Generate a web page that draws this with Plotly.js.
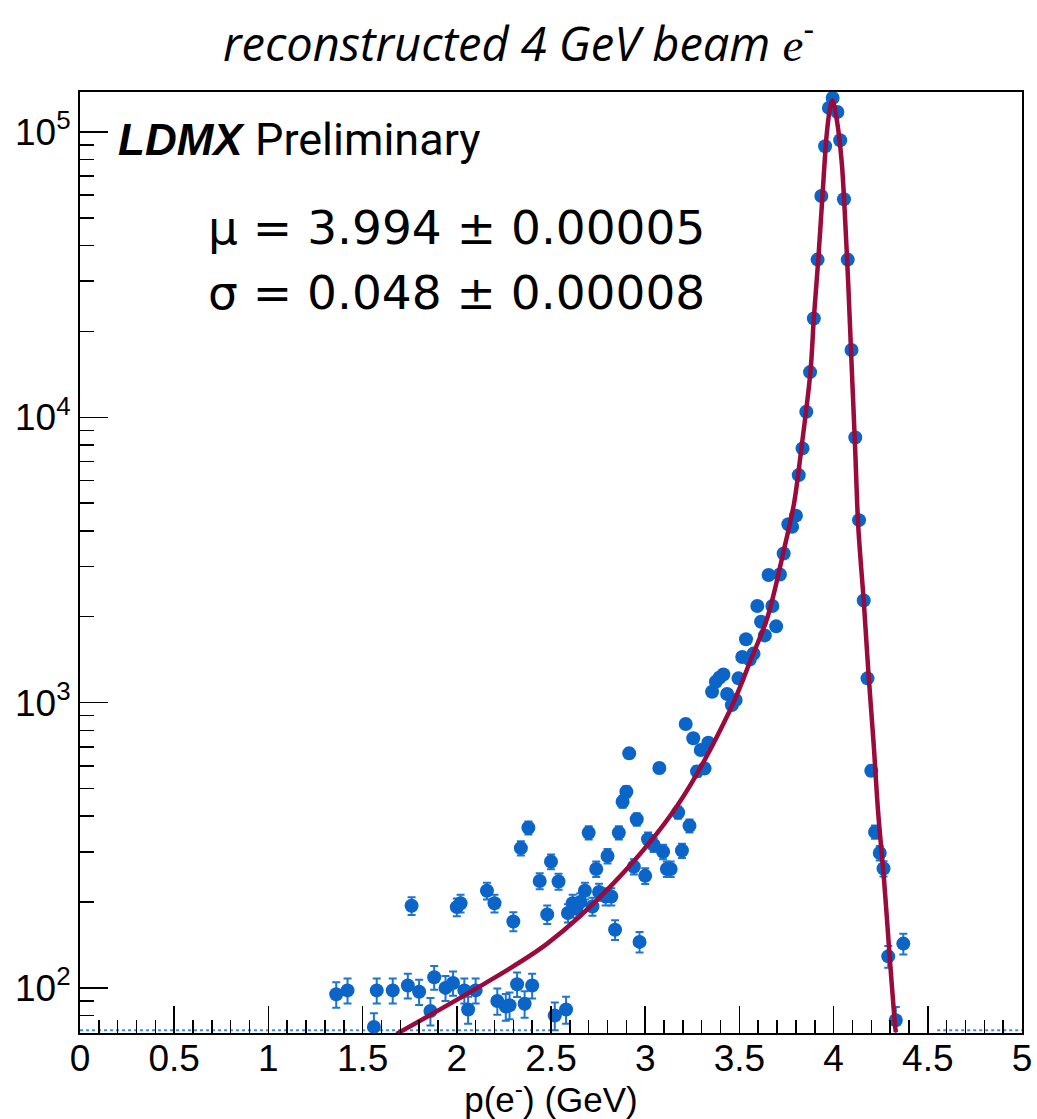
<!DOCTYPE html>
<html><head><meta charset="utf-8">
<script src="https://cdn.plot.ly/plotly-3.0.1.min.js"></script>
<style>html,body{margin:0;padding:0;background:#fff}</style>
</head><body>
<div id="chart" style="width:1037px;height:1119px"></div>
<script>
// Histogram points: reconstructed momentum (GeV) and entries per bin
const momentum = [1.36,1.42,1.56,1.575,1.66,1.74,1.76,1.80,1.86,1.88,1.94,1.98,2.00,2.02,2.04,2.06,2.10,2.16,2.20,2.215,2.26,2.28,2.30,2.32,2.34,2.36,2.38,2.40,2.44,2.48,2.50,2.52,2.54,2.58,2.59,2.615,2.635,2.655,2.68,2.70,2.72,2.74,2.755,2.79,2.80,2.82,2.84,2.86,2.88,2.90,2.915,2.94,2.955,2.97,3.00,3.015,3.045,3.075,3.095,3.115,3.135,3.175,3.195,3.215,3.235,3.255,3.275,3.295,3.315,3.335,3.355,3.375,3.395,3.415,3.435,3.46,3.48,3.495,3.515,3.535,3.555,3.575,3.595,3.615,3.635,3.655,3.675,3.695,3.715,3.735,3.76,3.78,3.80,3.815,3.835,3.855,3.875,3.895,3.915,3.935,3.955,3.975,3.995,4.02,4.035,4.055,4.075,4.095,4.115,4.135,4.16,4.18,4.20,4.22,4.245,4.265,4.29,4.33,4.37];
const counts = [95,98,73,98,98,102,194,97,83,109,100,104,192,198,98,84,98,219,198,90,86,87,171,103,309,88,364,102,237,181,277,80,236,84,183,198,190,200,219,350,193,261,217,209,290,209,160,350,449,487,664,266,390,145,247,332,317,590,300,261,261,412,303,841,370,750,574,682,588,723,1092,1183,1225,1255,1072,980,1021,1216,1445,1667,1415,1485,2180,1920,1720,2800,2180,1850,2810,3330,4220,4130,4520,6270,7780,10450,14400,22200,35700,59600,89100,121400,131500,117500,93500,58100,35700,17200,8490,4360,2280,1216,577,352,297,262,129,77,143];

// Fit curve
const fitMomentum = [1.68,2.12,2.48,2.83,3.17,3.45,3.56,3.65,3.74,3.79,3.83,3.877,3.895,3.919,3.94,3.963,3.98,3.994,4.016,4.043,4.061,4.078,4.096,4.114,4.131,4.161,4.185,4.212,4.236,4.268,4.295,4.323,4.33];
const fitCounts = [69,101,143,232,435,940,1410,2000,3520,4990,7870,14400,22200,36000,58500,97400,120000,129000,111400,78500,49700,29000,15000,7870,4130,2220,1268,726,416,238,136,78,70];

// Axis ticks
const yDecades = [100, 1000, 10000, 100000];
const yDecadeLabels = ['10<sup>2</sup>', '10<sup>3</sup>', '10<sup>4</sup>', '10<sup>5</sup>'];
const minorMultipliers = [2,3,4,5,6,7,8,9];

const yMinor = [];
[10, 100, 1000, 10000, 100000].forEach(d => minorMultipliers.forEach(m => yMinor.push(d * m)));

const blue = '#0b64c8';
const fitColor = '#9a0a3a';

const dataTrace = {
  x: momentum, y: counts, type: 'scatter', mode: 'markers',
  marker: {color: blue, size: 14},
  error_y: {type: 'sqrt', visible: true, color: '#1f74d0', thickness: 2, width: 4},
  hoverinfo: 'x+y', showlegend: false
};
const fitTrace = {
  x: fitMomentum, y: fitCounts, type: 'scatter', mode: 'lines',
  line: {color: fitColor, width: 4.5, shape: 'spline', smoothing: 0.9},
  showlegend: false
};

const tickFont = {family: 'Liberation Sans, Arial, sans-serif', size: 37, color: '#000'};

const layout = {
  width: 1037, height: 1119,
  margin: {l: 80, r: 15, t: 92, b: 86, pad: 0},
  paper_bgcolor: '#fff', plot_bgcolor: '#fff',
  title: {
    text: '<i>reconstructed 4 GeV beam </i><span style="font-family:Liberation Serif"><i>e</i></span><sup>-</sup>',
    font: {family: 'Open Sans, DejaVu Sans, sans-serif', size: 47, color: '#000'},
    x: 0.5, xref: 'container', xanchor: 'center',
    y: 0.96, yref: 'container', yanchor: 'middle'
  },
  xaxis: {
    range: [0, 5], tick0: 0, dtick: 0.5,
    ticks: 'inside', ticklen: 27, tickwidth: 1.5, tickcolor: '#000',
    showline: true, linecolor: '#000', linewidth: 2, mirror: true,
    showgrid: false, zeroline: false,
    tickfont: tickFont, ticklabelstandoff: -8,
    minor: {tick0: 0, dtick: 0.1, ticks: 'inside', ticklen: 13, tickwidth: 1.5, tickcolor: '#000', showgrid: false},
    title: {text: 'p(e<sup>-</sup>) (GeV)', font: {family: 'Liberation Sans, Arial, sans-serif', size: 35, color: '#000'}, standoff: 6}
  },
  yaxis: {
    type: 'log', range: [1.842, 5.14],
    tickmode: 'array', tickvals: yDecades, ticktext: yDecadeLabels,
    ticks: 'inside', ticklen: 28, tickwidth: 1.5, tickcolor: '#000',
    showline: true, linecolor: '#000', linewidth: 2, mirror: true,
    showgrid: false, zeroline: false,
    tickfont: tickFont,
    minor: {tickmode: 'array', tickvals: yMinor, ticks: 'inside', ticklen: 14, tickwidth: 1.5, tickcolor: '#000', showgrid: false}
  },
  shapes: [
    {type: 'line', xref: 'x', yref: 'paper', x0: 0, x1: 2.5, y0: 0.003, y1: 0.003, line: {color: '#3f8ee0', width: 2, dash: 'dot'}, layer: 'below'},
    {type: 'line', xref: 'x', yref: 'paper', x0: 4.55, x1: 5, y0: 0.003, y1: 0.003, line: {color: '#3f8ee0', width: 2, dash: 'dot'}, layer: 'below'}
  ],
  annotations: [
    {text: '<b><i>LDMX</i></b>', xref: 'paper', yref: 'paper', x: 0.038, y: 0.949, xanchor: 'left', yanchor: 'middle', showarrow: false,
     font: {family: 'Liberation Sans, Arial, sans-serif', size: 44, color: '#000'}},
    {text: 'Preliminary', xref: 'paper', yref: 'paper', x: 0.184, y: 0.949, xanchor: 'left', yanchor: 'middle', showarrow: false,
     font: {family: 'Roboto, Liberation Sans, sans-serif', size: 45, color: '#000'}},
    {text: 'μ = 3.994 ± 0.00005', xref: 'paper', yref: 'paper', x: 0.134, y: 0.8555, xanchor: 'left', yanchor: 'middle', showarrow: false,
     font: {family: 'DejaVu Sans, sans-serif', size: 47, color: '#000'}},
    {text: 'σ = 0.048 ± 0.00008', xref: 'paper', yref: 'paper', x: 0.134, y: 0.7864, xanchor: 'left', yanchor: 'middle', showarrow: false,
     font: {family: 'DejaVu Sans, sans-serif', size: 47, color: '#000'}}
  ]
};

Plotly.newPlot('chart', [dataTrace, fitTrace], layout, {displayModeBar: false, staticPlot: true});
</script>
</body></html>
